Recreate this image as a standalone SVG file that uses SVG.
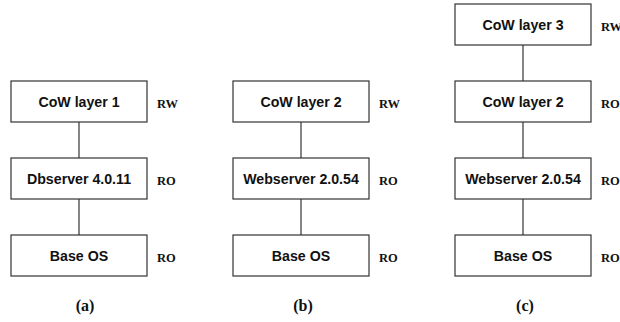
<svg xmlns="http://www.w3.org/2000/svg" width="620" height="322" viewBox="0 0 620 322">
<style>
.box{fill:#fff;stroke:#333;stroke-width:1.2}
.t{font-family:"Liberation Sans",Arial,sans-serif;font-weight:bold;font-size:14.2px;text-anchor:middle;fill:#111}
.m{font-family:"Liberation Serif","Times New Roman",serif;font-weight:bold;font-size:12.5px;fill:#111}
.cap{font-family:"Liberation Serif","Times New Roman",serif;font-weight:bold;font-size:16px;text-anchor:middle;fill:#111}
.ln{stroke:#333;stroke-width:1.2;fill:none}
</style>
<rect width="620" height="322" fill="#fff"/>
<g id="connectors">
<line class="ln" x1="79" y1="122" x2="79" y2="158"/>
<line class="ln" x1="79" y1="199" x2="79" y2="235"/>
<line class="ln" x1="301" y1="122" x2="301" y2="158"/>
<line class="ln" x1="301" y1="199" x2="301" y2="235"/>
<line class="ln" x1="523" y1="45" x2="523" y2="81"/>
<line class="ln" x1="523" y1="122" x2="523" y2="158"/>
<line class="ln" x1="523" y1="199" x2="523" y2="235"/>
</g>
<g id="a-cow1"><rect class="box" x="11" y="81" width="136" height="41"/><text class="t" x="79" y="107">CoW layer 1</text><text class="m" x="157" y="107.5">RW</text></g>
<g id="a-db"><rect class="box" x="11" y="158" width="136" height="41"/><text class="t" x="79" y="184">Dbserver 4.0.11</text><text class="m" x="157" y="184.5">RO</text></g>
<g id="a-base"><rect class="box" x="11" y="235" width="136" height="41"/><text class="t" x="79" y="261">Base OS</text><text class="m" x="157" y="261.5">RO</text></g>
<g id="b-cow2"><rect class="box" x="233" y="81" width="136" height="41"/><text class="t" x="301" y="107">CoW layer 2</text><text class="m" x="379" y="107.5">RW</text></g>
<g id="b-web"><rect class="box" x="233" y="158" width="136" height="41"/><text class="t" x="301" y="184">Webserver 2.0.54</text><text class="m" x="379" y="184.5">RO</text></g>
<g id="b-base"><rect class="box" x="233" y="235" width="136" height="41"/><text class="t" x="301" y="261">Base OS</text><text class="m" x="379" y="261.5">RO</text></g>
<g id="c-cow3"><rect class="box" x="455" y="4" width="136" height="41"/><text class="t" x="523" y="30">CoW layer 3</text><text class="m" x="601" y="30.5">RW</text></g>
<g id="c-cow2"><rect class="box" x="455" y="81" width="136" height="41"/><text class="t" x="523" y="107">CoW layer 2</text><text class="m" x="601" y="107.5">RO</text></g>
<g id="c-web"><rect class="box" x="455" y="158" width="136" height="41"/><text class="t" x="523" y="184">Webserver 2.0.54</text><text class="m" x="601" y="184.5">RO</text></g>
<g id="c-base"><rect class="box" x="455" y="235" width="136" height="41"/><text class="t" x="523" y="261">Base OS</text><text class="m" x="601" y="261.5">RO</text></g>
<text class="cap" x="85" y="311">(a)</text>
<text class="cap" x="303" y="311">(b)</text>
<text class="cap" x="525" y="311">(c)</text>
</svg>
